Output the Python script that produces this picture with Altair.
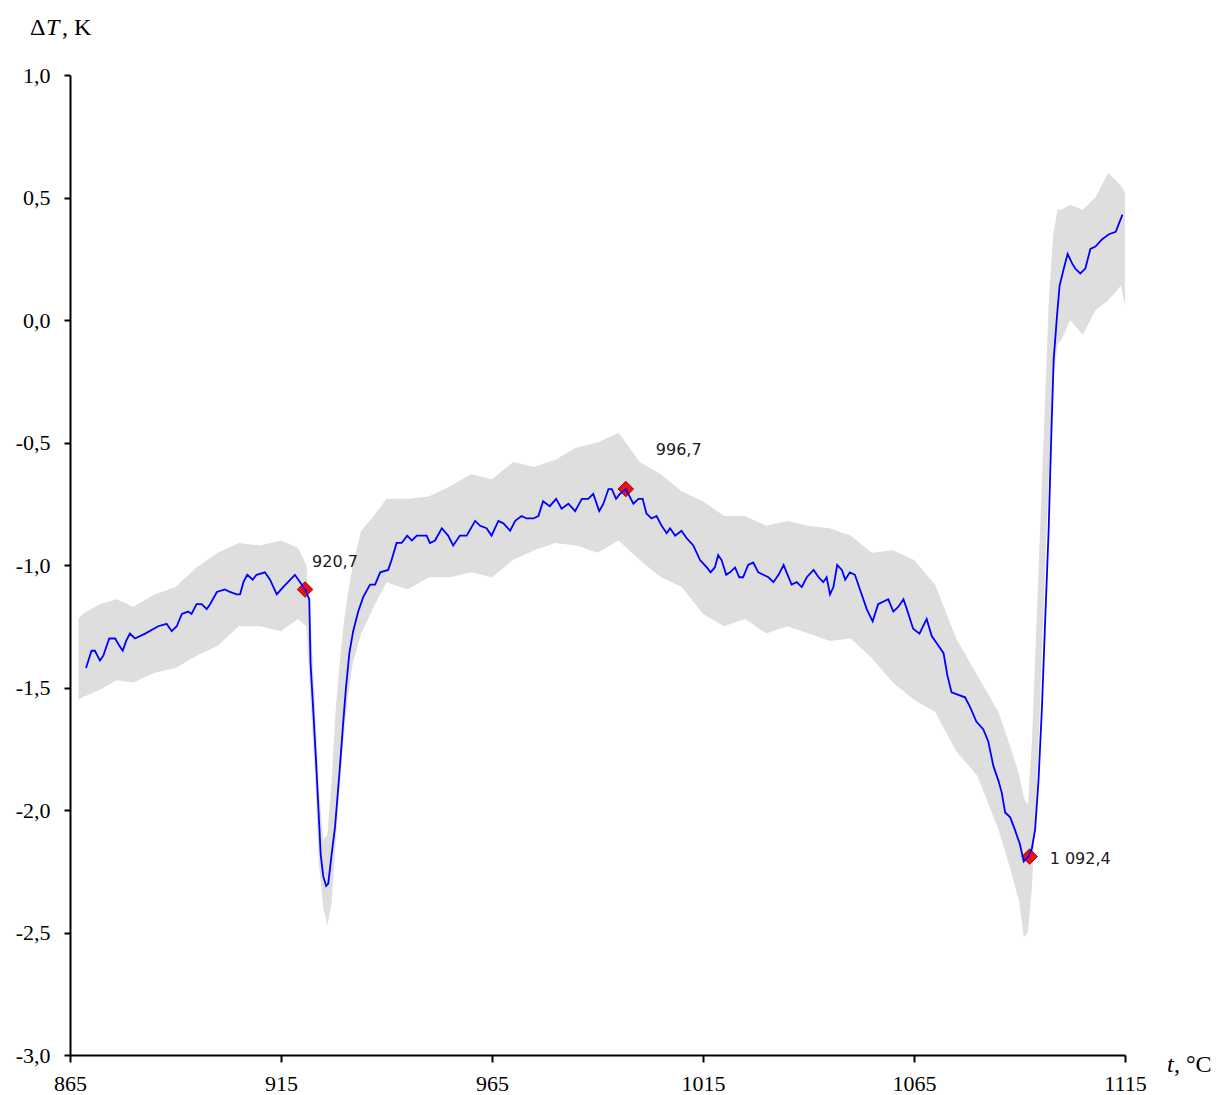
import altair as alt
import pandas as pd

# ---- smoothed (blue) curve: temperature, degC / delta T, K
blue_t = [868.8, 870.1, 870.9, 872.1, 872.9, 874.3, 875.7, 876.7, 877.5, 878.3, 879.2, 880.4, 882.8,
          885.9, 887.9, 889.1, 890.3, 891.5, 893.0, 893.8, 895.0, 896.2, 897.4, 898.2, 899.8, 901.7,
          902.9, 904.5, 905.3, 906.1, 907.0, 908.3, 909.2, 911.2, 912.4, 914.0, 915.5, 918.3, 919.9,
          920.7, 921.7, 922.0, 922.7, 923.3, 923.8, 924.4, 925.0, 925.7, 926.2, 927.0, 927.8, 928.8,
          929.8, 930.4, 931.2, 932.1, 933.3, 934.5, 936.1, 937.3, 938.5, 940.4, 941.2, 942.4, 943.6,
          944.9, 946.0, 947.2, 948.3, 949.5, 950.3, 951.5, 953.1, 954.6, 955.8, 957.4, 959.0, 961.0,
          962.2, 963.7, 964.9, 966.5, 967.7, 969.3, 970.5, 972.0, 973.2, 974.8, 976.0, 977.1, 978.7,
          980.2, 981.5, 983.1, 984.7, 986.3, 987.8, 989.0, 990.4, 991.4, 992.6, 993.4, 994.4, 995.3,
          996.7, 997.3, 998.5, 999.7, 1000.7, 1001.6, 1002.8, 1004.0, 1005.2, 1006.4, 1007.2, 1008.4,
          1009.9, 1011.1, 1012.7, 1014.3, 1015.9, 1016.8, 1017.8, 1018.6, 1019.4, 1020.5, 1021.4,
          1022.6, 1023.6, 1024.5, 1025.7, 1026.9, 1028.1, 1029.3, 1030.5, 1031.7, 1032.9, 1034.1,
          1034.8, 1036.0, 1037.2, 1038.4, 1039.6, 1041.2, 1042.4, 1043.5, 1044.3, 1045.1, 1045.9,
          1046.8, 1047.9, 1048.7, 1049.8, 1051.0, 1052.2, 1053.8, 1055.2, 1056.5, 1058.9, 1060.1,
          1061.3, 1062.5, 1063.3, 1064.8, 1066.3, 1068.0, 1069.2, 1070.8, 1072.0, 1072.9, 1073.9,
          1075.5, 1077.1, 1078.3, 1079.8, 1081.4, 1082.6, 1083.8, 1085.0, 1085.8, 1086.6, 1087.8,
          1088.9, 1090.1, 1091.0, 1092.1, 1092.9, 1093.7, 1094.5, 1095.3, 1096.1, 1096.9, 1097.5,
          1098.1, 1098.9, 1099.5, 1100.5, 1101.4, 1102.5, 1103.2, 1104.4, 1105.6, 1106.8, 1108.0,
          1109.6, 1111.2, 1112.8, 1114.4]
blue_dt = [-1.42, -1.35, -1.35, -1.39, -1.37, -1.30, -1.30, -1.33, -1.35, -1.31, -1.28, -1.30, -1.28,
           -1.25, -1.24, -1.27, -1.25, -1.20, -1.19, -1.20, -1.16, -1.16, -1.18, -1.16, -1.11, -1.10,
           -1.11, -1.12, -1.12, -1.07, -1.04, -1.06, -1.04, -1.03, -1.06, -1.12, -1.09, -1.04, -1.08,
           -1.10, -1.14, -1.40, -1.61, -1.80, -1.97, -2.18, -2.27, -2.31, -2.30, -2.18, -2.07, -1.86,
           -1.63, -1.50, -1.36, -1.27, -1.19, -1.13, -1.08, -1.08, -1.03, -1.02, -0.98, -0.91, -0.91,
           -0.88, -0.90, -0.88, -0.88, -0.88, -0.91, -0.90, -0.85, -0.88, -0.92, -0.88, -0.88, -0.82,
           -0.84, -0.85, -0.88, -0.82, -0.83, -0.86, -0.82, -0.80, -0.81, -0.81, -0.80, -0.74, -0.76,
           -0.73, -0.77, -0.75, -0.78, -0.73, -0.73, -0.71, -0.78, -0.75, -0.69, -0.69, -0.73, -0.71,
           -0.69, -0.71, -0.75, -0.73, -0.73, -0.79, -0.81, -0.80, -0.84, -0.87, -0.85, -0.88,
           -0.86, -0.89, -0.92, -0.98, -1.01, -1.03, -1.01, -0.96, -0.98, -1.04, -1.03,
           -1.01, -1.05, -1.05, -1.00, -0.99, -1.03, -1.04, -1.05, -1.07, -1.04, -1.00,
           -1.03, -1.08, -1.07, -1.09, -1.05, -1.02, -1.05, -1.07, -1.05, -1.12, -1.09,
           -1.00, -1.02, -1.06, -1.03, -1.04, -1.10, -1.18, -1.23, -1.16, -1.14, -1.19,
           -1.17, -1.14, -1.18, -1.26, -1.28, -1.22, -1.29, -1.33, -1.36, -1.45, -1.52,
           -1.53, -1.54, -1.58, -1.64, -1.67, -1.72, -1.82, -1.88, -1.93, -2.01, -2.03,
           -2.08, -2.14, -2.21, -2.19, -2.16, -2.08, -1.88, -1.59, -1.22, -0.86, -0.49,
           -0.16, 0.02, 0.14, 0.21, 0.27, 0.23, 0.21, 0.19, 0.21, 0.29, 0.30,
           0.33, 0.35, 0.36, 0.43]

# ---- raw (grey) signal, read as its upper / lower envelope
raw_t = [867, 868, 872, 876, 880, 885, 890, 895, 900, 905, 910, 915, 919, 921, 922, 923, 924, 925,
         926, 927, 928, 929, 930, 931, 932, 934, 937, 940, 945, 950, 955, 960, 965, 970, 975, 980,
         985, 990, 995, 1000, 1005, 1010, 1015, 1020, 1025, 1030, 1035, 1040, 1045, 1050, 1055,
         1060, 1065, 1070, 1075, 1080, 1085, 1088, 1090, 1091, 1092, 1093, 1094, 1095, 1096, 1097,
         1098, 1099, 1100, 1102, 1105, 1108, 1111, 1114, 1115]
raw_hi = [-1.22, -1.20, -1.16, -1.14, -1.17, -1.12, -1.09, -1.01, -0.95, -0.91, -0.92, -0.90, -0.93,
          -1.00, -1.22, -1.55, -1.92, -2.12, -2.10, -1.88, -1.58, -1.38, -1.22, -1.10, -1.00, -0.86,
          -0.80, -0.73, -0.73, -0.72, -0.68, -0.63, -0.65, -0.58, -0.60, -0.57, -0.52, -0.50, -0.46,
          -0.58, -0.63, -0.70, -0.74, -0.80, -0.80, -0.84, -0.82, -0.84, -0.85, -0.88, -0.95, -0.94,
          -0.98, -1.08, -1.30, -1.45, -1.60, -1.75, -1.86, -1.95, -1.98, -1.70, -1.25, -0.80, -0.35,
          0.10, 0.35, 0.45, 0.45, 0.47, 0.45, 0.50, 0.60, 0.55, 0.52]
raw_lo = [-1.55, -1.54, -1.51, -1.47, -1.48, -1.44, -1.42, -1.37, -1.33, -1.25, -1.25, -1.27, -1.22,
          -1.25, -1.55, -1.85, -2.22, -2.40, -2.47, -2.38, -2.12, -1.88, -1.68, -1.52, -1.40, -1.28,
          -1.17, -1.07, -1.10, -1.05, -1.05, -1.03, -1.05, -0.98, -0.94, -0.91, -0.92, -0.95, -0.90,
          -0.98, -1.05, -1.09, -1.20, -1.25, -1.22, -1.28, -1.25, -1.28, -1.31, -1.30, -1.38, -1.48,
          -1.55, -1.60, -1.76, -1.86, -2.08, -2.25, -2.38, -2.52, -2.50, -2.30, -1.95, -1.50, -1.05,
          -0.60, -0.25, -0.10, -0.08, 0.00, -0.06, 0.04, 0.08, 0.14, 0.06]

# ---- marked points
pt_t = [920.7, 996.7, 1092.4]
pt_dt = [-1.10, -0.69, -2.19]
pt_label = ["920,7", "996,7", "1 092,4"]
pt_dx = [7, 30, 20]
pt_dy = [-28, -39, 2]

x_ticks = [865, 915, 965, 1015, 1065, 1115]
y_ticks = [-3.0, -2.5, -2.0, -1.5, -1.0, -0.5, 0.0, 0.5, 1.0]

blue_df = pd.DataFrame({"t": blue_t, "dt": blue_dt})
raw_df = pd.DataFrame({"t": raw_t, "hi": raw_hi, "lo": raw_lo})

xscale = alt.Scale(domain=[865, 1115], nice=False, zero=False)
yscale = alt.Scale(domain=[-3.0, 1.0], nice=False, zero=False)

xaxis = alt.Axis(values=x_ticks, format="d", title=None, grid=False,
                 domainColor="black", domainWidth=2, tickColor="black", tickWidth=2,
                 tickSize=7, labelPadding=11, labelFont="Liberation Serif", labelFontSize=22,
                 labelColor="black", labelFlush=False)
yaxis = alt.Axis(values=y_ticks, title=None, grid=False,
                 labelExpr="(datum.value < 0 ? '-' : '') + replace(format(abs(datum.value), '.1f'), '.', ',')",
                 domainColor="black", domainWidth=2, tickColor="black", tickWidth=2,
                 tickSize=6, labelPadding=14, labelFont="Liberation Serif", labelFontSize=22,
                 labelColor="black", labelFlush=False)

band = alt.Chart(raw_df).mark_area(color="#dedede", opacity=1, interpolate="linear").encode(
    x=alt.X("t:Q", scale=xscale, axis=xaxis),
    y=alt.Y("hi:Q", scale=yscale, axis=yaxis),
    y2="lo:Q",
)

pt_df = pd.DataFrame({"t": pt_t, "dt": pt_dt, "label": pt_label})
markers = alt.Chart(pt_df).mark_point(shape="diamond", size=240, filled=True,
                                      fill="#f01010", stroke="#a00000", strokeWidth=1,
                                      opacity=1).encode(
    x=alt.X("t:Q", scale=xscale), y=alt.Y("dt:Q", scale=yscale))

line = alt.Chart(blue_df).mark_line(color="#0000ff", strokeWidth=1.8).encode(
    x=alt.X("t:Q", scale=xscale), y=alt.Y("dt:Q", scale=yscale))

labels = []
for i in range(len(pt_t)):
    sub = pd.DataFrame({"t": [pt_t[i]], "dt": [pt_dt[i]], "label": [pt_label[i]]})
    labels.append(
        alt.Chart(sub).mark_text(align="left", baseline="middle", dx=pt_dx[i], dy=pt_dy[i],
                                 font="DejaVu Sans", fontSize=16, color="#1a1a1a").encode(
            x=alt.X("t:Q", scale=xscale), y=alt.Y("dt:Q", scale=yscale), text="label:N"))

def title_piece(txt, x, y, italic=False):
    return alt.Chart(pd.DataFrame({"s": [txt]})).mark_text(
        align="left", baseline="alphabetic", font="Liberation Serif", fontSize=24,
        fontStyle="italic" if italic else "normal", color="black").encode(
        x=alt.value(x), y=alt.value(y), text="s:N")

titles = [
    title_piece("Δ", -40, -40),
    title_piece("T", -24, -40, italic=True),
    title_piece(", K", -8, -40),
    title_piece("t", 1097, 997, italic=True),
    title_piece(", °C", 1104, 997),
]

chart = alt.layer(band, markers, line, *labels, *titles).properties(
    width=1055, height=980,
    background="white",
    autosize=alt.AutoSizeParams(type="none"),
    padding={"left": 70, "top": 75, "right": 93, "bottom": 40},
).configure_view(stroke=None)

chart.save("out.html", embed_options={"renderer": "svg", "actions": False})
